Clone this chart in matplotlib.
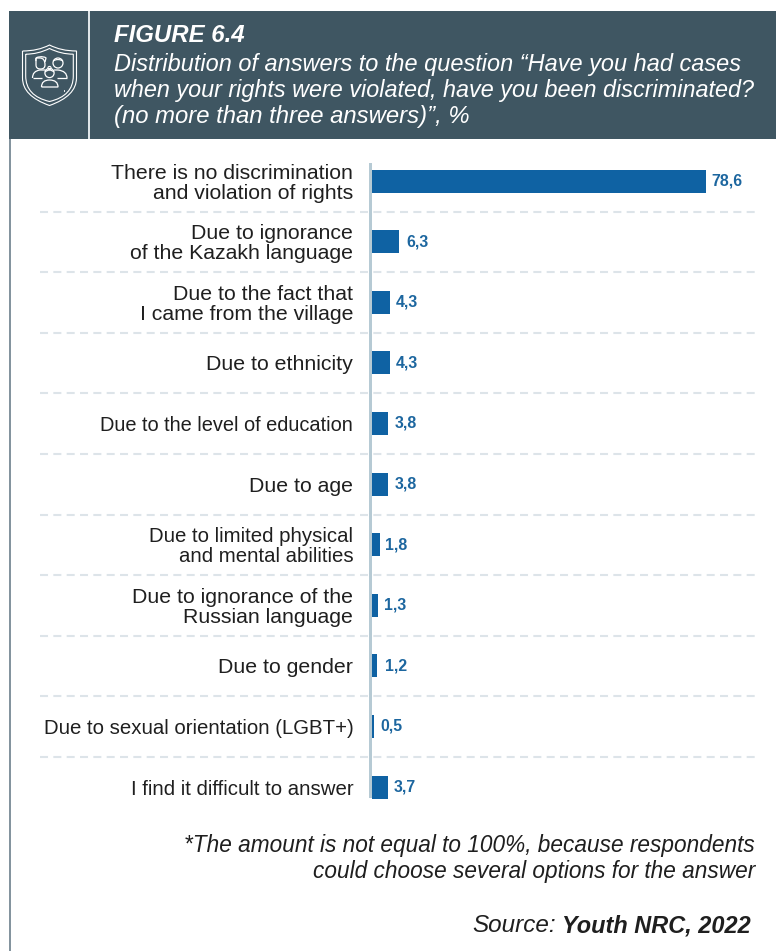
import matplotlib
matplotlib.use("Agg")
import matplotlib.pyplot as plt
from matplotlib.patches import Rectangle, Circle, PathPatch
from matplotlib.path import Path

categories = [
    "There is no discrimination\nand violation of rights",
    "Due to ignorance\nof the Kazakh language",
    "Due to the fact that\nI came from the village",
    "Due to ethnicity",
    "Due to the level of education",
    "Due to age",
    "Due to limited physical\nand mental abilities",
    "Due to ignorance of the\nRussian language",
    "Due to gender",
    "Due to sexual orientation (LGBT+)",
    "I find it difficult to answer",
]
values = [78.6, 6.3, 4.3, 4.3, 3.8, 3.8, 1.8, 1.3, 1.2, 0.5, 3.7]
value_labels = ["78,6", "6,3", "4,3", "4,3", "3,8", "3,8", "1,8", "1,3", "1,2", "0,5", "3,7"]

W, H = 776, 951
plt.rcParams["font.family"] = ["Liberation Sans", "DejaVu Sans"]
fig = plt.figure(figsize=(W / 100, H / 100), dpi=100, facecolor="white")

bg = fig.add_axes([0, 0, 1, 1])
bg.set_xlim(0, W)
bg.set_ylim(H, 0)
bg.axis("off")

HEAD = "#3f5662"
bg.add_patch(Rectangle((9, 11), W - 9, 128, fc=HEAD, ec="none"))
bg.add_patch(Rectangle((9, 139), 2.2, H - 139, fc="#84949e", ec="none"))
bg.add_patch(Rectangle((88, 11), 2.4, 128, fc="#dfe5e8", ec="none"))

# shield icon
def P(verts, codes=None, lw=0.9):
    bg.add_patch(PathPatch(Path(verts, codes), fc="none", ec="white", lw=lw))

C3, L = Path.CURVE3, Path.LINETO
M = Path.MOVETO
for dx, top, bot, yb in [(0, 45, 105.5, 78), (3.2, 48.5, 101.5, 76)]:
    xl, xr = 22.5 + dx, 76.5 - dx
    P([(xl, 51 + dx), (38, 51 + dx), (49.5, top), (61, 51 + dx), (xr, 51 + dx),
       (xr, yb), (xr, 96), (49.5, bot), (xl, 96), (xl, yb), (xl, 51 + dx)],
      [M, C3, C3, C3, C3, L, C3, C3, C3, C3, L], lw=0.8)
# left man: head with flat hair
P([(36, 65), (36, 58), (37, 58), (40, 58), (45, 58), (45, 65), (45, 69), (40.5, 69), (36, 69), (36, 65)],
  [M, L, C3, C3, C3, L, C3, C3, C3, C3])
P([(36, 61), (35, 57), (39, 57), (44, 56), (46, 58), (45, 62)], [M, C3, C3, C3, C3, L])
# right man
bg.add_patch(Circle((58, 63), 5.0, fc="none", ec="white", lw=0.9))
P([(53, 61), (58, 58), (63, 61)], [M, C3, C3])
# centre child
bg.add_patch(Circle((49.5, 73), 4.6, fc="none", ec="white", lw=0.9))
P([(45, 72), (49.5, 68), (54, 72)], [M, C3, C3])
bg.add_patch(Circle((49.5, 68), 1.6, fc="none", ec="white", lw=0.8))
# bodies
P([(32.5, 78), (32.5, 71), (40, 70), (45, 70), (46, 71)], [M, C3, C3, L, L])
P([(32.5, 78), (42, 78)])
P([(67, 78), (67, 71), (58, 70), (54, 70)], [M, C3, C3, L])
P([(67, 78), (57, 78)])
P([(41.5, 87), (41.5, 80), (49.5, 80), (58, 80), (58, 87), (41.5, 87)], [M, C3, C3, C3, C3, L])
P([(64, 91), (64.6, 91)], lw=1.2)

# header
bg.text(114, 35, "FIGURE 6.4", color="white", fontsize=17.3, fontweight="bold", style="italic", va="center", ha="left")
for y, line, fs in [(64, "Distribution of answers to the question \u201cHave you had cases", 16.95),
                    (90, "when your rights were violated, have you been discriminated?", 16.8),
                    (116.5, "(no more than three answers)\u201d, %", 17.2)]:
    bg.text(114, y, line, color="white", fontsize=fs, style="italic", va="center", ha="left")

# separators
for i in range(10):
    y = 211.5 + 60.6 * i
    bg.plot([40, 756], [y, y], color="#dde4e9", lw=1.5, dashes=(3.85, 2.55), solid_capstyle="butt")

# bars
PX = 4.25
y0 = 181.0
step = 60.6
top = y0 - step / 2
bottom = y0 + step * 10.5
ax = fig.add_axes([372 / W, 1 - bottom / H, (W - 372) / W, (bottom - top) / H])
ax.patch.set_alpha(0)
ax.set_xlim(0, (W - 372) / PX)
ax.set_ylim(10.5, -0.5)
ax.axis("off")
ypos = list(range(len(values)))
ax.barh(ypos, values, height=23 / step, color="#0f62a3")
label_gap_pt = [3.6, 5.8, 3.6, 3.6, 5.0, 5.0, 3.6, 5.0, 5.5, 4.3, 4.3]
category_size = [15.3, 15.3, 15.3, 15.3, 14.36, 15.3, 14.7, 15.3, 15.3, 14.7, 14.7]
for y, v, t, g, fs in zip(ypos, values, value_labels, label_gap_pt, category_size):
    ax.annotate(t, (v, y), xytext=(g, 0), textcoords="offset points", color="#1c669f",
                fontsize=11.4, fontweight="bold", va="center", ha="left")
    ax.annotate(categories[y], (0, y), xytext=(-13.5, -1.5), textcoords="offset points", color="#1f1f1f",
                fontsize=fs, va="center", ha="right", linespacing=1.06, multialignment="right")

bg.add_patch(Rectangle((369, 163), 3, 635, fc="#b6cad4", ec="none", zorder=5))

# footer
for y, line in [(845.5, "*The amount is not equal to 100%, because respondents"),
                (871.5, "could choose several options for the answer")]:
    bg.text(755, y, line, fontsize=16.3, style="italic", color="#1f1f1f", ha="right", va="center")
bg.text(751, 926, "Youth NRC, 2022", fontsize=16.9, style="italic", fontweight="bold",
        color="#1f1f1f", ha="right", va="center")
bg.text(556, 926, "Source:", fontsize=17.5, style="italic", color="#1f1f1f", ha="right", va="center")

fig.savefig("out.png", dpi=100, facecolor="white")
